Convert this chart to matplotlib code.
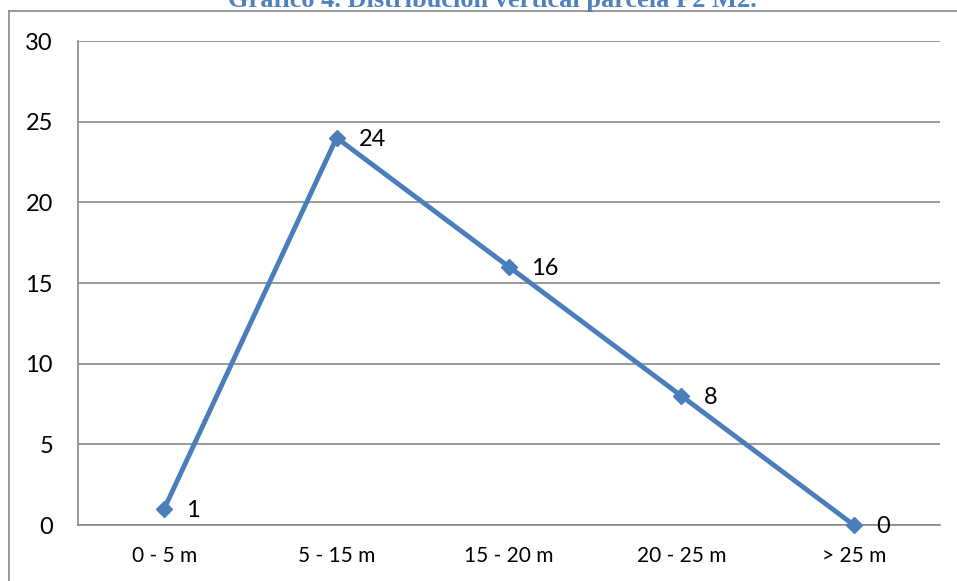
import numpy as np
import matplotlib.pyplot as plt
from matplotlib.lines import Line2D

# Vertical distribution of trees per height class
categories = ['0 - 5 m', '5 - 15 m', '15 - 20 m', '20 - 25 m', '> 25 m']
counts = [1, 24, 16, 8, 0]
y_ticks = [0, 5, 10, 15, 20, 25, 30]

title = 'Gráfico 4. Distribución vertical parcela P2 M2.'

line_color = '#4A7EBB'
grid_color = '#898989'

fig = plt.figure(figsize=(9.57, 5.81), dpi=100)
W, H = 957, 581

# outer chart frame (top and left edges)
fig.add_artist(Line2D([9 / W, 1.0], [1 - 11 / H, 1 - 11 / H], color=grid_color, lw=1.2,
                      transform=fig.transFigure))
fig.add_artist(Line2D([9 / W, 9 / W], [0, 1 - 11 / H], color=grid_color, lw=1.2,
                      transform=fig.transFigure))

fig.text(492 / W, 1 - 7 / H, title, ha='center', va='baseline', fontsize=19,
         fontweight='bold', family='Liberation Serif', color='#4F81BD')

ax = fig.add_axes([78 / W, 1 - 525 / H, (940 - 78) / W, (525 - 41) / H])

x = np.arange(len(categories))
ax.plot(x, counts, color=line_color, lw=3.5, marker='D', markersize=8,
        solid_capstyle='round', zorder=3, clip_on=False)

for xi, v in zip(x, counts):
    ax.annotate(str(v), (xi, v), xytext=(16, -1), textcoords='offset points',
                ha='left', va='center', fontsize=17, family='Lato', zorder=4)

ax.set_xlim(-0.5, len(categories) - 0.5)
ax.set_ylim(0, 30)
ax.set_yticks(y_ticks)
ax.set_xticks(x)
ax.set_xticklabels(categories)
ax.yaxis.grid(True, color=grid_color, lw=1.2)
ax.set_axisbelow(True)

for side in ['top', 'right']:
    ax.spines[side].set_visible(False)
for side in ['left', 'bottom']:
    ax.spines[side].set_color(grid_color)
    ax.spines[side].set_linewidth(1.2)

ax.tick_params(axis='both', length=0, colors='black')
ax.tick_params(axis='y', pad=18, labelsize=17)
ax.tick_params(axis='x', pad=15, labelsize=15)
for lbl in ax.get_xticklabels() + ax.get_yticklabels():
    lbl.set_family('Lato')

fig.savefig('out.png', dpi=100)
